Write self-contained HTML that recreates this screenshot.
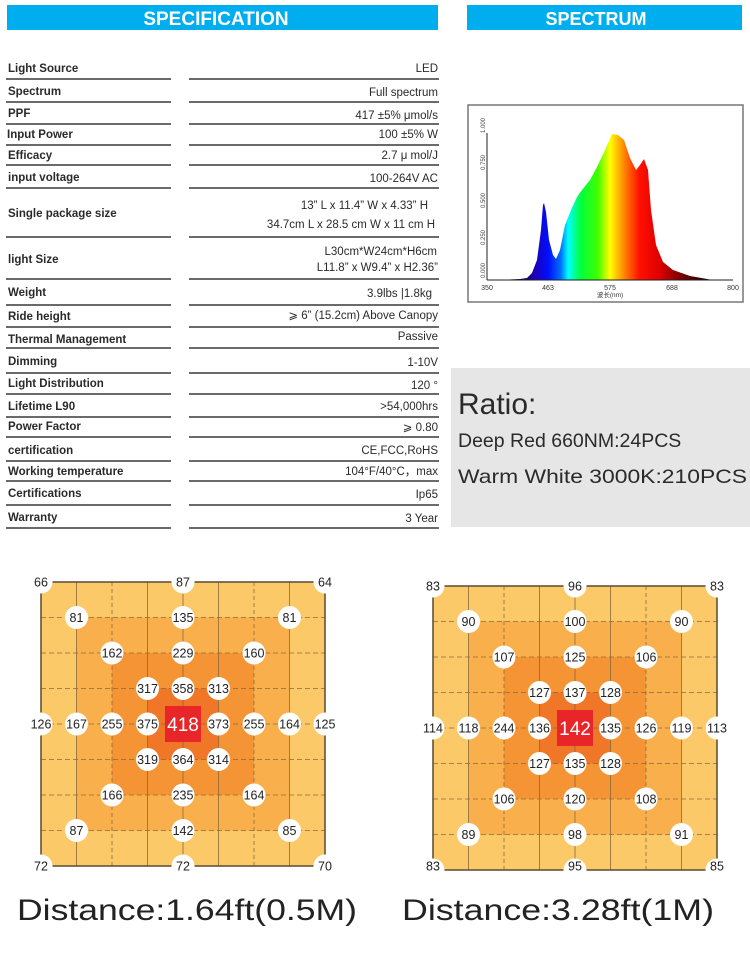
<!DOCTYPE html>
<html><head><meta charset="utf-8"><style>
html,body{margin:0;padding:0;background:#fff;}
svg{display:block;font-family:"Liberation Sans","Noto Sans CJK SC",sans-serif;}
.l{font-size:11.5px;font-weight:bold;fill:#2a2a2a;}
.v{font-size:11.5px;fill:#2a2a2a;text-anchor:end;}
.n{font-size:12.5px;fill:#222;text-anchor:middle;}
</style></head><body>
<svg width="750" height="961" viewBox="0 0 750 961" xmlns="http://www.w3.org/2000/svg">
<defs>
<linearGradient id="sp" x1="487" x2="733" y1="0" y2="0" gradientUnits="userSpaceOnUse">
<stop offset="0" stop-color="#000"/>
<stop offset="0.12" stop-color="#10002a"/>
<stop offset="0.2" stop-color="#1a00c0"/>
<stop offset="0.25" stop-color="#0010ff"/>
<stop offset="0.3" stop-color="#0070ff"/>
<stop offset="0.33" stop-color="#00ffff"/>
<stop offset="0.38" stop-color="#00ff40"/>
<stop offset="0.45" stop-color="#40ff00"/>
<stop offset="0.5" stop-color="#ffff00"/>
<stop offset="0.56" stop-color="#ff8000"/>
<stop offset="0.62" stop-color="#ff1000"/>
<stop offset="0.7" stop-color="#e00000"/>
<stop offset="0.78" stop-color="#800000"/>
<stop offset="0.88" stop-color="#300000"/>
<stop offset="1" stop-color="#000"/>
</linearGradient>
<g id="grid">
<rect x="0" y="0" width="284" height="284" fill="#fcc968"/>
<rect x="35.5" y="35.5" width="213" height="213" fill="#f9b04c"/>
<rect x="71" y="71" width="142" height="142" fill="#f59434"/>
<rect x="106.5" y="106.5" width="71" height="71" fill="#f07628"/>
<g stroke="#8a6a3a" stroke-width="0.8">
<line x1="35.5" y1="0" x2="35.5" y2="284"/><line x1="71" y1="0" x2="71" y2="284" stroke-dasharray="4 3"/>
<line x1="106.5" y1="0" x2="106.5" y2="284"/><line x1="142" y1="0" x2="142" y2="284"/>
<line x1="177.5" y1="0" x2="177.5" y2="284"/><line x1="213" y1="0" x2="213" y2="284" stroke-dasharray="4 3"/>
<line x1="248.5" y1="0" x2="248.5" y2="284"/>
</g>
<g stroke="#8a6a3a" stroke-width="0.8" stroke-dasharray="5 3">
<line x1="0" y1="35.5" x2="284" y2="35.5"/><line x1="0" y1="71" x2="284" y2="71"/>
<line x1="0" y1="106.5" x2="284" y2="106.5"/><line x1="0" y1="142" x2="284" y2="142"/>
<line x1="0" y1="177.5" x2="284" y2="177.5"/><line x1="0" y1="213" x2="284" y2="213"/>
<line x1="0" y1="248.5" x2="284" y2="248.5"/>
</g>
<rect x="0" y="0" width="284" height="284" fill="none" stroke="#5a4a30" stroke-width="1.5"/>
<rect x="124" y="124" width="36" height="36" fill="#e8262a"/>
<g fill="#fff">
<circle cx="0" cy="0" r="11.5"/><circle cx="142" cy="0" r="11.5"/><circle cx="284" cy="0" r="11.5"/>
<circle cx="35.5" cy="35.5" r="11.5"/><circle cx="142" cy="35.5" r="11.5"/><circle cx="248.5" cy="35.5" r="11.5"/>
<circle cx="71" cy="71" r="11.5"/><circle cx="142" cy="71" r="11.5"/><circle cx="213" cy="71" r="11.5"/>
<circle cx="106.5" cy="106.5" r="11.5"/><circle cx="142" cy="106.5" r="11.5"/><circle cx="177.5" cy="106.5" r="11.5"/>
<circle cx="0" cy="142" r="11.5"/><circle cx="35.5" cy="142" r="11.5"/><circle cx="71" cy="142" r="11.5"/><circle cx="106.5" cy="142" r="11.5"/>
<circle cx="177.5" cy="142" r="11.5"/><circle cx="213" cy="142" r="11.5"/><circle cx="248.5" cy="142" r="11.5"/><circle cx="284" cy="142" r="11.5"/>
<circle cx="106.5" cy="177.5" r="11.5"/><circle cx="142" cy="177.5" r="11.5"/><circle cx="177.5" cy="177.5" r="11.5"/>
<circle cx="71" cy="213" r="11.5"/><circle cx="142" cy="213" r="11.5"/><circle cx="213" cy="213" r="11.5"/>
<circle cx="35.5" cy="248.5" r="11.5"/><circle cx="142" cy="248.5" r="11.5"/><circle cx="248.5" cy="248.5" r="11.5"/>
<circle cx="0" cy="284" r="11.5"/><circle cx="142" cy="284" r="11.5"/><circle cx="284" cy="284" r="11.5"/>
</g>
</g>
</defs>

<!-- headers -->
<rect x="7" y="5" width="431" height="25" fill="#00aeef"/>
<text x="216" y="25" text-anchor="middle" font-size="19" font-weight="bold" fill="#fff">SPECIFICATION</text>
<rect x="467" y="5" width="275" height="25" fill="#00aeef"/>
<text x="596" y="25" text-anchor="middle" font-size="18" font-weight="bold" fill="#fff">SPECTRUM</text>

<!-- table lines -->
<g stroke="#6a6a6a" stroke-width="2">
<line x1="6" x2="171" y1="79" y2="79"/><line x1="189" x2="439" y1="79" y2="79"/>
<line x1="6" x2="171" y1="102" y2="102"/><line x1="189" x2="439" y1="102" y2="102"/>
<line x1="6" x2="171" y1="124" y2="124"/><line x1="189" x2="439" y1="124" y2="124"/>
<line x1="6" x2="171" y1="145" y2="145"/><line x1="189" x2="439" y1="145" y2="145"/>
<line x1="6" x2="171" y1="165" y2="165"/><line x1="189" x2="439" y1="165" y2="165"/>
<line x1="6" x2="171" y1="188" y2="188"/><line x1="189" x2="439" y1="188" y2="188"/>
<line x1="6" x2="171" y1="237" y2="237"/><line x1="189" x2="439" y1="237" y2="237"/>
<line x1="6" x2="171" y1="279" y2="279"/><line x1="189" x2="439" y1="279" y2="279"/>
<line x1="6" x2="171" y1="305" y2="305"/><line x1="189" x2="439" y1="305" y2="305"/>
<line x1="6" x2="171" y1="327" y2="327"/><line x1="189" x2="439" y1="327" y2="327"/>
<line x1="6" x2="171" y1="348" y2="348"/><line x1="189" x2="439" y1="348" y2="348"/>
<line x1="6" x2="171" y1="373" y2="373"/><line x1="189" x2="439" y1="373" y2="373"/>
<line x1="6" x2="171" y1="394" y2="394"/><line x1="189" x2="439" y1="394" y2="394"/>
<line x1="6" x2="171" y1="417" y2="417"/><line x1="189" x2="439" y1="417" y2="417"/>
<line x1="6" x2="171" y1="437" y2="437"/><line x1="189" x2="439" y1="437" y2="437"/>
<line x1="6" x2="171" y1="461" y2="461"/><line x1="189" x2="439" y1="461" y2="461"/>
<line x1="6" x2="171" y1="481" y2="481"/><line x1="189" x2="439" y1="481" y2="481"/>
<line x1="6" x2="171" y1="505" y2="505"/><line x1="189" x2="439" y1="505" y2="505"/>
<line x1="6" x2="171" y1="528" y2="528"/><line x1="189" x2="439" y1="528" y2="528"/>
</g>
<g class="l">
<text class="l" x="8" y="72">Light Source</text>
<text class="l" x="8" y="95">Spectrum</text>
<text class="l" x="8" y="117">PPF</text>
<text class="l" x="7" y="138">Input Power</text>
<text class="l" x="8" y="159">Efficacy</text>
<text class="l" x="8" y="181">input voltage</text>
<text class="l" x="8" y="217">Single package size</text>
<text class="l" x="8" y="263">light Size</text>
<text class="l" x="8" y="296">Weight</text>
<text class="l" x="8" y="320">Ride height</text>
<text class="l" x="8" y="343">Thermal Management</text>
<text class="l" x="8" y="365">Dimming</text>
<text class="l" x="8" y="387">Light Distribution</text>
<text class="l" x="8" y="410">Lifetime L90</text>
<text class="l" x="8" y="430">Power Factor</text>
<text class="l" x="8" y="454">certification</text>
<text class="l" x="8" y="475">Working temperature</text>
<text class="l" x="8" y="497">Certifications</text>
<text class="l" x="8" y="521">Warranty</text>
</g>
<text class="v" x="438" y="72">LED</text>
<text class="v" x="438" y="96">Full spectrum</text>
<text class="v" x="438" y="119">417 ±5% μmol/s</text>
<text class="v" x="438" y="138">100 ±5% W</text>
<text class="v" x="438" y="159">2.7 μ mol/J</text>
<text class="v" x="438" y="182">100-264V AC</text>
<text class="v" x="428" y="209">13” L x 11.4” W x 4.33” H</text>
<text class="v" x="435" y="228">34.7cm L x 28.5 cm W x 11 cm H</text>
<text class="v" x="437" y="255">L30cm*W24cm*H6cm</text>
<text class="v" x="438" y="271">L11.8”  x W9.4”  x H2.36”</text>
<text class="v" x="432" y="297">3.9lbs |1.8kg</text>
<text class="v" x="438" y="319">⩾ 6” (15.2cm) Above Canopy</text>
<text class="v" x="438" y="340">Passive</text>
<text class="v" x="438" y="366">1-10V</text>
<text class="v" x="438" y="389">120 °</text>
<text class="v" x="438" y="410">&gt;54,000hrs</text>
<text class="v" x="438" y="431">⩾ 0.80</text>
<text class="v" x="438" y="454">CE,FCC,RoHS</text>
<text class="v" x="438" y="475">104°F/40°C，max</text>
<text class="v" x="438" y="498">Ip65</text>
<text class="v" x="438" y="522">3 Year</text>

<!-- spectrum -->
<rect x="468" y="105" width="275" height="197" fill="#fff" stroke="#777" stroke-width="1.5"/>
<path d="M487,280 L509,279.5 L520,279 L527,278 L532,273 L537,260 L541,230 L543,205 L544,203 L546,212 L549,240 L553,255 L556,259 L560,250 L565,225 L571,210 L577,197 L582,190 L590,180 L598,165 L605,150 L612,134 L618,135 L624,140 L630,158 L636,170 L640,165 L644,159 L648,170 L651,210 L656,245 L663,262 L673,270 L690,276 L710,279.5 L733,280 Z" fill="url(#sp)"/>
<line x1="487" y1="280" x2="733" y2="280" stroke="#222" stroke-width="1"/>
<line x1="487" y1="133" x2="487" y2="280" stroke="#222" stroke-width="1"/>
<g font-size="6" fill="#444">
<text transform="translate(485,278) rotate(-90)">0.000</text>
<text transform="translate(485,245) rotate(-90)">0.250</text>
<text transform="translate(485,208) rotate(-90)">0.500</text>
<text transform="translate(485,170) rotate(-90)">0.750</text>
<text transform="translate(485,133) rotate(-90)">1.000</text>
</g>
<g font-size="7" fill="#333" text-anchor="middle">
<text x="487" y="290">350</text><text x="548" y="290">463</text><text x="610" y="290">575</text><text x="672" y="290">688</text><text x="733" y="290">800</text>
<text x="610" y="297" font-size="6.5">波长(nm)</text>
</g>

<!-- ratio -->
<rect x="451" y="368" width="299" height="159" fill="#e6e6e6"/>
<text x="458" y="414" font-size="30" fill="#2a2a2a">Ratio:</text>
<text x="458" y="447" font-size="19.5" fill="#2a2a2a">Deep Red 660NM:24PCS</text>
<text x="458" y="483" font-size="19.5" fill="#2a2a2a" textLength="289" lengthAdjust="spacingAndGlyphs">Warm White 3000K:210PCS</text>

<!-- left map -->
<g transform="translate(41,582)">
<use href="#grid"/>
<g class="n">
<text class="n" x="0" y="4.5">66</text><text class="n" x="142" y="4.5">87</text><text class="n" x="284" y="4.5">64</text>
<text class="n" x="35.5" y="40">81</text><text class="n" x="142" y="40">135</text><text class="n" x="248.5" y="40">81</text>
<text class="n" x="71" y="75.5">162</text><text class="n" x="142" y="75.5">229</text><text class="n" x="213" y="75.5">160</text>
<text class="n" x="106.5" y="111">317</text><text class="n" x="142" y="111">358</text><text class="n" x="177.5" y="111">313</text>
<text class="n" x="0" y="146.5">126</text><text class="n" x="35.5" y="146.5">167</text><text class="n" x="71" y="146.5">255</text><text class="n" x="106.5" y="146.5">375</text>
<text class="n" x="177.5" y="146.5">373</text><text class="n" x="213" y="146.5">255</text><text class="n" x="248.5" y="146.5">164</text><text class="n" x="284" y="146.5">125</text>
<text class="n" x="106.5" y="182">319</text><text class="n" x="142" y="182">364</text><text class="n" x="177.5" y="182">314</text>
<text class="n" x="71" y="217.5">166</text><text class="n" x="142" y="217.5">235</text><text class="n" x="213" y="217.5">164</text>
<text class="n" x="35.5" y="253">87</text><text class="n" x="142" y="253">142</text><text class="n" x="248.5" y="253">85</text>
<text class="n" x="0" y="288.5">72</text><text class="n" x="142" y="288.5">72</text><text class="n" x="284" y="288.5">70</text>
</g>
<text x="142" y="149" text-anchor="middle" font-size="19" fill="#fff">418</text>
</g>

<!-- right map -->
<g transform="translate(433,586)">
<use href="#grid"/>
<text class="n" x="0" y="4.5">83</text><text class="n" x="142" y="4.5">96</text><text class="n" x="284" y="4.5">83</text>
<text class="n" x="35.5" y="40">90</text><text class="n" x="142" y="40">100</text><text class="n" x="248.5" y="40">90</text>
<text class="n" x="71" y="75.5">107</text><text class="n" x="142" y="75.5">125</text><text class="n" x="213" y="75.5">106</text>
<text class="n" x="106.5" y="111">127</text><text class="n" x="142" y="111">137</text><text class="n" x="177.5" y="111">128</text>
<text class="n" x="0" y="146.5">114</text><text class="n" x="35.5" y="146.5">118</text><text class="n" x="71" y="146.5">244</text><text class="n" x="106.5" y="146.5">136</text>
<text class="n" x="177.5" y="146.5">135</text><text class="n" x="213" y="146.5">126</text><text class="n" x="248.5" y="146.5">119</text><text class="n" x="284" y="146.5">113</text>
<text class="n" x="106.5" y="182">127</text><text class="n" x="142" y="182">135</text><text class="n" x="177.5" y="182">128</text>
<text class="n" x="71" y="217.5">106</text><text class="n" x="142" y="217.5">120</text><text class="n" x="213" y="217.5">108</text>
<text class="n" x="35.5" y="253">89</text><text class="n" x="142" y="253">98</text><text class="n" x="248.5" y="253">91</text>
<text class="n" x="0" y="284.5">83</text><text class="n" x="142" y="284.5">95</text><text class="n" x="284" y="284.5">85</text>
<text x="142" y="149" text-anchor="middle" font-size="19" fill="#fff">142</text>
</g>

<text x="17" y="920" font-size="30" fill="#222" textLength="340" lengthAdjust="spacingAndGlyphs">Distance:1.64ft(0.5M)</text>
<text x="402" y="920" font-size="30" fill="#222" textLength="312" lengthAdjust="spacingAndGlyphs">Distance:3.28ft(1M)</text>
</svg>
</body></html>
